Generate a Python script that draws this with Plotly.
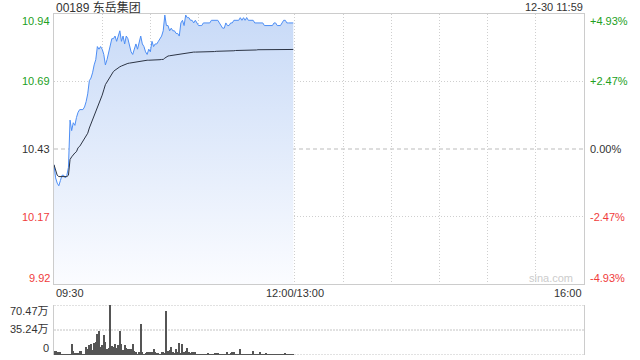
import plotly.graph_objects as go

# ---------------- data ----------------
title_text = "00189 东岳集团"
stamp_text = "12-30 11:59"
prev_close = 10.43

price = [
    10.37, 10.32, 10.30, 10.29, 10.31, 10.33, 10.33, 10.32, 10.33, 10.36,
    10.54, 10.50, 10.53, 10.52, 10.55, 10.57, 10.58, 10.58, 10.58, 10.59,
    10.61, 10.64, 10.69, 10.70, 10.72, 10.75, 10.77, 10.82, 10.81, 10.82,
    10.81, 10.79, 10.75, 10.77, 10.80, 10.83, 10.85, 10.85, 10.86, 10.84,
    10.86, 10.88, 10.84, 10.86, 10.83, 10.86, 10.85, 10.82, 10.80, 10.79,
    10.81, 10.83, 10.81, 10.84, 10.86, 10.83, 10.82, 10.80, 10.79, 10.81,
    10.80, 10.84, 10.82, 10.83, 10.83, 10.84, 10.85, 10.86, 10.88, 10.94,
    10.90, 10.90, 10.88, 10.89, 10.88, 10.88, 10.87, 10.87, 10.86, 10.91,
    10.92, 10.90, 10.94, 10.93, 10.93, 10.92, 10.92, 10.91, 10.92, 10.91,
    10.90, 10.90, 10.90, 10.91, 10.91, 10.91, 10.91, 10.91, 10.92, 10.92,
    10.92, 10.92, 10.92, 10.91, 10.90, 10.89, 10.89, 10.91, 10.90, 10.90,
    10.91, 10.91, 10.92, 10.92, 10.92, 10.92, 10.93, 10.92, 10.93, 10.92,
    10.93, 10.92, 10.92, 10.92, 10.92, 10.91, 10.91, 10.91, 10.91, 10.91,
    10.91, 10.90, 10.90, 10.90, 10.90, 10.90, 10.90, 10.91, 10.91, 10.90,
    10.90, 10.90, 10.91, 10.92, 10.92, 10.91, 10.91, 10.91, 10.91, 10.91,
]

avg_price = [
    10.37, 10.35, 10.33, 10.325, 10.325, 10.325, 10.325, 10.325, 10.325, 10.33,
    10.39, 10.40, 10.41, 10.415, 10.42, 10.435, 10.44, 10.45, 10.455, 10.465,
    10.48, 10.49, 10.51, 10.525, 10.54, 10.555, 10.57, 10.585, 10.60, 10.62,
    10.635, 10.655, 10.675, 10.685, 10.695, 10.71, 10.72, 10.725, 10.73, 10.735,
    10.74, 10.743, 10.746, 10.749, 10.752, 10.754, 10.756, 10.757, 10.758, 10.759,
    10.760, 10.761, 10.762, 10.763, 10.766, 10.767, 10.767, 10.767, 10.768, 10.768,
    10.768, 10.769, 10.769, 10.769, 10.770, 10.770, 10.770, 10.771, 10.771, 10.776,
    10.782, 10.784, 10.785, 10.786, 10.787, 10.788, 10.789, 10.790, 10.792, 10.793,
    10.794, 10.795, 10.796, 10.797, 10.797, 10.798, 10.798, 10.799, 10.799, 10.799,
    10.800, 10.800, 10.800, 10.800, 10.800, 10.800, 10.800, 10.801, 10.801, 10.801,
    10.801, 10.802, 10.802, 10.802, 10.802, 10.803, 10.803, 10.803, 10.803, 10.804,
    10.804, 10.804, 10.804, 10.805, 10.805, 10.805, 10.805, 10.806, 10.806, 10.806,
    10.807, 10.807, 10.807, 10.807, 10.807, 10.807, 10.807, 10.808, 10.808, 10.808,
    10.808, 10.808, 10.808, 10.808, 10.808, 10.808, 10.808, 10.808, 10.808, 10.809,
    10.809, 10.809, 10.809, 10.809, 10.809, 10.809, 10.809, 10.809, 10.809, 10.809,
]

volume_wan = [
    6.0, 6.0, 4.6, 3.7, 3.7, 1.4, 0.9, 0.5, 0.9, 0.9,
    0.9, 14.9, 6.0, 2.3, 2.3, 3.2, 6.0, 6.0, 1.4, 0.3,
    11.6, 8.4, 13.9, 15.3, 7.0, 16.3, 18.6, 30.2, 33.9, 11.6,
    13.9, 28.8, 18.6, 8.4, 10.2, 70.47, 13.0, 11.6, 14.9, 9.3,
    13.9, 33.9, 14.9, 7.0, 13.9, 10.2, 8.4, 8.4, 8.4, 14.9,
    6.0, 3.7, 1.4, 3.7, 44.1, 3.7, 0.9, 2.3, 3.7, 3.7,
    3.7, 3.7, 8.4, 3.7, 2.3, 2.3, 0.3, 3.7, 4.6, 2.3,
    61.8, 5.6, 7.0, 11.6, 3.7, 3.2, 8.4, 4.6, 16.3, 3.2,
    14.9, 4.6, 5.6, 10.2, 4.6, 3.2, 3.7, 3.7, 4.6, 1.4,
    0.9, 0.9, 0.9, 0.3, 0.9, 1.4, 2.3, 0.9, 0.9, 1.4,
    2.3, 3.2, 2.3, 0.9, 0.9, 0.9, 0.9, 1.4, 4.6, 1.4,
    2.3, 4.6, 3.7, 1.4, 0.9, 0.9, 7.9, 1.4, 0.9, 0.9,
    0.9, 0.9, 0.3, 0.9, 5.6, 1.4, 1.4, 0.9, 4.6, 0.9,
    0.9, 1.4, 2.3, 1.4, 0.9, 0.9, 0.3, 0.9, 0.9, 0.9,
    0.9, 0.9, 1.4, 1.4, 2.3, 1.4, 0.9, 0.9, 0.9, 0.9,
]

minute_index = list(range(len(price)))
session_minutes = 330
grid_minutes = [30, 60, 90, 120, 150, 180, 210, 240, 270, 300]

price_tick_vals = [10.944, 10.687, 10.43, 10.173, 9.916]
price_tick_labels = ["10.94", "10.69", "10.43", "10.17", "9.92"]
pct_tick_labels = ["+4.93%", "+2.47%", "0.00%", "-2.47%", "-4.93%"]
tick_colors = ["#22a022", "#22a022", "#333333", "#f03c3c", "#f03c3c"]
tick_shift = [-7, 0, 0, 0, 6]

vol_tick_vals = [70.47, 35.24, 0]
vol_tick_labels = ["70.47万", "35.24万", "0"]

time_label_pos = [0, 150, 330]
time_labels = ["09:30", "12:00/13:00", "16:00"]
time_anchor = ["left", "center", "right"]

# ---------------- layout geometry ----------------
W, H = 640, 360
px_x = lambda p: p / W
px_y = lambda p: 1 - p / H
VOL_TOP, VOL_BOTTOM = 305, 355
vol_label_px = [311, 329, 348]

FONT = "Liberation Sans, Arial, Noto Sans CJK SC, sans-serif"

fig = go.Figure()

fig.add_trace(go.Scatter(
    x=minute_index, y=price, mode="lines",
    line=dict(color="#4d8ef5", width=1),
    fill="tozeroy",
    fillgradient=dict(type="vertical",
                      colorscale=[[0, "#fbfcff"], [1, "#c8daf7"]],
                      start=price_tick_vals[-1], stop=price_tick_vals[0]),
    xaxis="x", yaxis="y", hoverinfo="skip", showlegend=False,
))
fig.add_trace(go.Scatter(
    x=minute_index, y=avg_price, mode="lines",
    line=dict(color="#2c3444", width=1),
    xaxis="x", yaxis="y", hoverinfo="skip", showlegend=False,
))
fig.add_trace(go.Bar(
    x=minute_index, y=volume_wan, width=0.62,
    marker=dict(color="#555555", line=dict(width=0)),
    xaxis="x2", yaxis="y2", hoverinfo="skip", showlegend=False,
))

annotations = []
annotations.append(dict(text=title_text, xref="paper", yref="paper",
                        x=px_x(54), y=px_y(7), xanchor="left", yanchor="middle",
                        showarrow=False, font=dict(size=12, color="#333333")))
annotations.append(dict(text=stamp_text, xref="paper", yref="paper",
                        x=px_x(585), y=px_y(7), xanchor="right", yanchor="middle",
                        showarrow=False, font=dict(size=11, color="#333333")))
for v, lab, pl, c, s in zip(price_tick_vals, price_tick_labels, pct_tick_labels,
                            tick_colors, tick_shift):
    annotations.append(dict(text=lab, xref="paper", yref="y", x=px_x(52), y=v,
                            xanchor="right", yanchor="middle", yshift=s,
                            showarrow=False, font=dict(size=11, color=c)))
    annotations.append(dict(text=pl, xref="paper", yref="y", x=px_x(588), y=v,
                            xanchor="left", yanchor="middle", yshift=s,
                            showarrow=False, font=dict(size=11, color=c)))
for lab, py in zip(vol_tick_labels, vol_label_px):
    annotations.append(dict(text=lab, xref="paper", yref="paper", x=px_x(51),
                            y=px_y(py), xanchor="right", yanchor="middle",
                            showarrow=False, font=dict(size=11, color="#333333")))
for p, lab, a in zip(time_label_pos, time_labels, time_anchor):
    annotations.append(dict(text=lab, xref="x", yref="paper", x=p, y=px_y(293),
                            xanchor=a, yanchor="middle", showarrow=False,
                            font=dict(size=11, color="#333333")))
annotations.append(dict(text="sina.com", xref="paper", yref="paper",
                        x=px_x(575), y=px_y(278), xanchor="right", yanchor="middle",
                        showarrow=False, font=dict(size=11, color="#cccccc")))

shapes = [dict(type="line", xref="x domain", yref="y", x0=0, x1=1,
               y0=prev_close, y1=prev_close,
               line=dict(color="#bbbbbb", width=1, dash="4px,3px"), layer="below")]
for v in vol_tick_vals:
    shapes.append(dict(type="line", xref="x2 domain", yref="y2", x0=0, x1=1,
                       y0=v, y1=v, layer="below",
                       line=dict(color="#c4c4c4", width=1, dash="2px,1px")))

fig.update_layout(
    width=W, height=H, margin=dict(l=0, r=0, t=0, b=0),
    paper_bgcolor="white", plot_bgcolor="white",
    font=dict(family=FONT, size=11, color="#333333"),
    bargap=0,
    xaxis=dict(domain=[px_x(54), px_x(584)], range=[0, session_minutes],
               tickvals=grid_minutes, showticklabels=False, ticks="",
               showgrid=True, gridcolor="#cfcfcf", griddash="1px,2px", gridwidth=1,
               showline=True, mirror=True, linecolor="#cccccc", linewidth=1,
               zeroline=False, fixedrange=True),
    yaxis=dict(domain=[px_y(284), px_y(14)],
               range=[price_tick_vals[-1], price_tick_vals[0]],
               tickvals=[price_tick_vals[1], price_tick_vals[3]],
               showticklabels=False, ticks="",
               showgrid=True, gridcolor="#cfcfcf", griddash="1px,2px", gridwidth=1,
               showline=True, mirror=True, linecolor="#cccccc", linewidth=1,
               zeroline=False, fixedrange=True),
    xaxis2=dict(domain=[px_x(54), px_x(584)], range=[0, session_minutes],
                anchor="y2", showticklabels=False, ticks="", showgrid=False,
                showline=False, zeroline=False, fixedrange=True),
    yaxis2=dict(domain=[px_y(VOL_BOTTOM), px_y(VOL_TOP)], range=[0, vol_tick_vals[0]],
                anchor="x2", showticklabels=False, ticks="", showgrid=False,
                showline=True, mirror=True, linecolor="#cccccc", linewidth=1,
                zeroline=False, fixedrange=True),
    annotations=annotations,
    shapes=shapes,
)

fig.write_html("out.html", config={"displayModeBar": False})
